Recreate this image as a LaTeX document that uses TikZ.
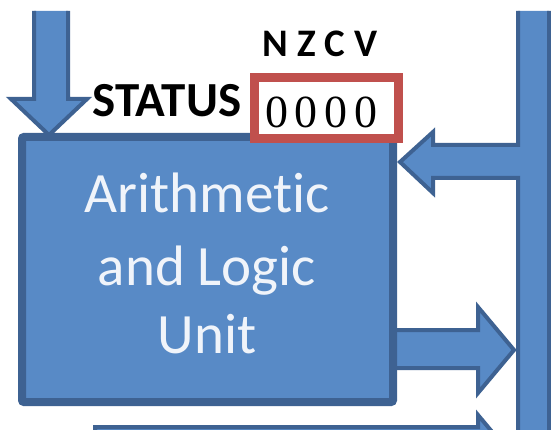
\documentclass[tikz,border=0pt]{standalone}
\usepackage{fontspec}
\setmainfont[Ligatures=NoCommon]{Carlito}
\newfontfamily\digitfont{Liberation Serif}
\definecolor{blockfill}{RGB}{88,138,198}
\definecolor{blockline}{RGB}{62,98,146}
\definecolor{regred}{RGB}{192,80,77}
\definecolor{alutext}{RGB}{240,244,250}
\begin{document}
\begin{tikzpicture}[x=1pt,y=-1pt,
  blockarrow/.style={fill=blockfill,draw=blockline,line width=4pt,line join=miter},
  alubox/.style={rectangle,fill=blockfill,draw=blockline,line width=8pt,rounded corners=2pt,inner sep=0pt},
  regbox/.style={rectangle,fill=white,draw=regred,line width=9pt,inner sep=0pt},
  alulabel/.style={anchor=base,text=alutext,inner sep=0pt,font=\fontsize{57}{68}\selectfont},
  statuslabel/.style={anchor=base,inner sep=0pt,font=\bfseries\fontsize{49}{58}\selectfont},
  flaglabel/.style={anchor=base,inner sep=0pt,font=\bfseries\fontsize{39}{46}\selectfont},
  digitlabel/.style={anchor=base,inner sep=0pt,font=\digitfont\fontsize{46}{55}\selectfont}]
\useasboundingbox (0,0) rectangle (551,430);
\clip (0,0) rectangle (551,430);
% down arrow into ALU
\path[blockarrow] (34,11) -- (34,99) -- (11,99) -- (49,135) -- (87,99) -- (68,99) -- (68,11);
% ALU result arrow to bus
\path[blockarrow] (385,330) -- (478,330) -- (478,307) -- (514,350) -- (478,393) -- (478,368) -- (385,368) -- cycle;
% bottom arrow to bus
\path[blockarrow] (95,470) -- (95,427) -- (478,427) -- (478,415) -- (514,458) -- (478,500) -- (478,470) -- cycle;
% bus with arrow into ALU
\path[blockarrow] (549,11) -- (549,440) -- (518,440) -- (518,178) -- (433,178) -- (433,193) -- (400,162) -- (433,132) -- (433,145) -- (518,145) -- (518,11);
% ALU box
\node[alubox,minimum width=371pt,minimum height=265pt] (alu) at (207.5,269.5) {};
\node[alulabel] (l1) at (207,213) {Arithmetic};
\node[alulabel] (l2) at (207,285) {and Logic};
\node[alulabel] (l3) at (207,353) {Unit};
% status register
\node[regbox,minimum width=144pt,minimum height=61pt] (flags) at (326.5,108) {};
\node[digitlabel] (bits) at (321.5,128) {0\hspace{7pt}0\hspace{7pt}0\hspace{7pt}0};
\node[statuslabel] (status) at (167,117) {STATUS};
\node[flaglabel] (nzcv) at (320,57) {N Z C V};
\end{tikzpicture}
\end{document}
